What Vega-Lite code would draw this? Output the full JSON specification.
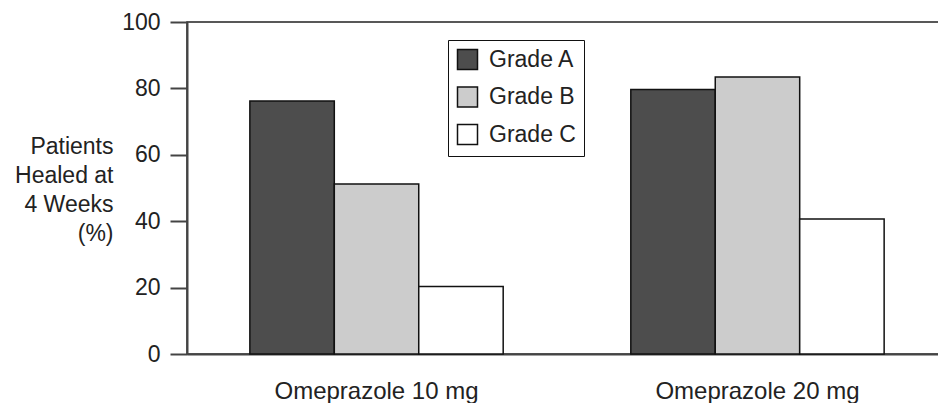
{
  "$schema": "https://vega.github.io/schema/vega-lite/v6.json",
  "autosize": "none",
  "padding": {"left": 187, "top": 22, "right": 0, "bottom": 49},
  "width": 760,
  "height": 332,
  "background": "white",
  "config": {
    "font": "Liberation Sans",
    "view": {"stroke": "#222222", "strokeWidth": 1.5},
    "axis": {"labelColor": "#222222", "titleColor": "#222222", "labelFontSize": 23, "titleFontSize": 23, "titleFontWeight": "normal", "domainColor": "#444444", "domainWidth": 2, "tickColor": "#444444", "tickWidth": 2, "grid": false, "labelLimit": 400},
    "legend": {"labelFontSize": 23, "labelColor": "#222222", "symbolStrokeColor": "#111111", "symbolStrokeWidth": 1.5, "strokeColor": "#111111", "fillColor": "white", "labelLimit": 400}
  },
  "data": {
    "values": [
      {"dose": "Omeprazole 10 mg", "grade": "Grade A", "healed": 76.2},
      {"dose": "Omeprazole 10 mg", "grade": "Grade B", "healed": 51.2},
      {"dose": "Omeprazole 10 mg", "grade": "Grade C", "healed": 20.3},
      {"dose": "Omeprazole 20 mg", "grade": "Grade A", "healed": 79.7},
      {"dose": "Omeprazole 20 mg", "grade": "Grade B", "healed": 83.4},
      {"dose": "Omeprazole 20 mg", "grade": "Grade C", "healed": 40.7}
    ]
  },
  "mark": {"type": "bar", "stroke": "#111111", "strokeWidth": 1.5, "opacity": 1},
  "encoding": {
    "x": {
      "field": "dose", "type": "nominal",
      "scale": {"paddingInner": 0.335, "paddingOuter": 0.165},
      "axis": {"title": null, "labelAngle": 0, "ticks": false, "labelPadding": 25, "labelBaseline": "top", "labelLimit": 400, "labelFontSize": 24}
    },
    "xOffset": {
      "field": "grade", "type": "nominal",
      "scale": {"paddingInner": 0, "paddingOuter": 0}
    },
    "y": {
      "field": "healed", "type": "quantitative",
      "scale": {"domain": [0, 100], "nice": false},
      "axis": {
        "values": [0, 20, 40, 60, 80, 100],
        "tickSize": 17, "labelPadding": 10,
        "title": ["Patients", "Healed at", "4 Weeks", "(%)"],
        "titleAngle": 0, "titleAlign": "right", "titleBaseline": "alphabetic",
        "titleX": -74, "titleY": 131, "titleLineHeight": 29
      }
    },
    "fill": {
      "field": "grade", "type": "nominal",
      "scale": {"domain": ["Grade A", "Grade B", "Grade C"], "range": ["#4d4d4d", "#cccccc", "#ffffff"]},
      "legend": {
        "title": null, "orient": "none", "legendX": 261, "legendY": 18,
        "symbolType": "square", "symbolSize": 400, "symbolOpacity": 1,
        "labelOffset": 10, "rowPadding": 10.5, "padding": 8
      }
    }
  }
}
